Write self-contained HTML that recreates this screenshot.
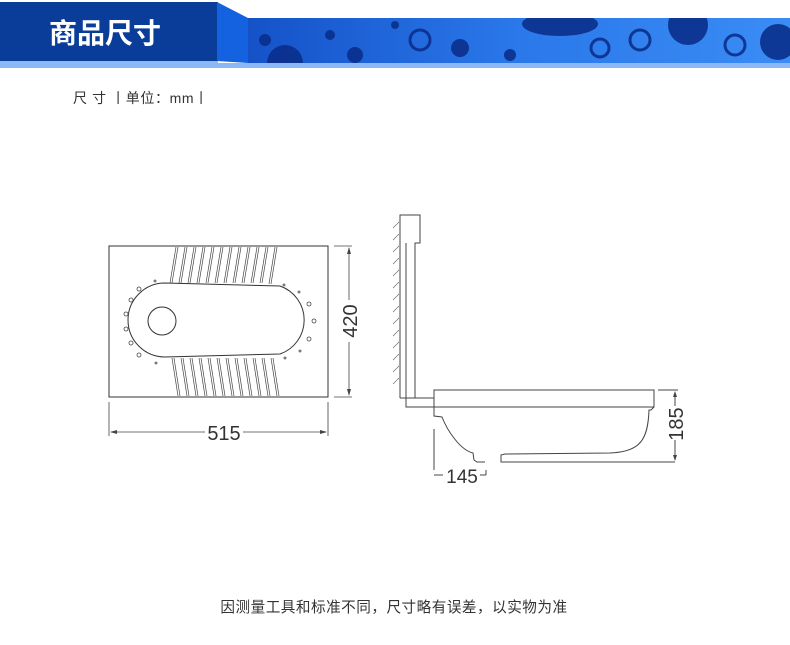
<!DOCTYPE html>
<html><head><meta charset="utf-8"><style>
body{margin:0;width:790px;height:645px;background:#fff;overflow:hidden;font-family:"Liberation Sans","Noto Sans CJK SC",sans-serif}
</style></head><body>
<svg width="790" height="645" xmlns="http://www.w3.org/2000/svg" style="position:absolute;left:0;top:0">
<defs>
<linearGradient id="pg" x1="0" x2="1" y1="0" y2="0"><stop offset="0" stop-color="#1552c8"/><stop offset="0.5" stop-color="#2a78ea"/><stop offset="1" stop-color="#3b8cf5"/></linearGradient>
<clipPath id="pc"><rect x="248" y="18" width="542" height="45"/></clipPath>
</defs>
<rect x="0" y="61" width="218" height="7" fill="#8cb9f4"/>
<rect x="218" y="63" width="572" height="5" fill="#8cb9f4"/>
<rect x="0" y="2" width="218" height="59" fill="#0a3d9a"/>
<polygon points="217,2 248,18 248,63 217,61" fill="#1462e0"/>
<rect x="248" y="18" width="542" height="45" fill="url(#pg)"/>
<g fill="#0a2f8c" opacity="0.9" clip-path="url(#pc)">
<circle cx="285" cy="63" r="18"/><circle cx="265" cy="40" r="6"/><circle cx="330" cy="35" r="5"/>
<circle cx="420" cy="40" r="10" fill="none" stroke="#0a2f8c" stroke-width="3"/>
<circle cx="355" cy="55" r="8"/><circle cx="460" cy="48" r="9"/>
<ellipse cx="560" cy="24" rx="38" ry="12"/><circle cx="600" cy="48" r="9" fill="none" stroke="#0a2f8c" stroke-width="3"/>
<circle cx="640" cy="40" r="10" fill="none" stroke="#0a2f8c" stroke-width="3"/>
<circle cx="688" cy="25" r="20"/><circle cx="735" cy="45" r="10" fill="none" stroke="#0a2f8c" stroke-width="3"/>
<circle cx="778" cy="42" r="18"/><circle cx="510" cy="55" r="6"/><circle cx="395" cy="25" r="4"/>
</g>
<text x="49" y="43" font-size="28" font-weight="bold" fill="#fff" font-family="'Noto Sans CJK SC',sans-serif">商品尺寸</text>
<text x="73" y="103" font-size="14" fill="#333" font-family="'Liberation Sans','Noto Sans CJK SC',sans-serif" letter-spacing="0.6">尺 寸 丨单位：mm丨</text>

<g fill="none" stroke="#333" stroke-width="1">
<rect x="109" y="246" width="219" height="151"/>
<path d="M165,283 L280,286 A36,36 0 0 1 280,354 L165,357 A37,37 0 0 1 165,283 Z"/>
<circle cx="162" cy="321" r="14"/>
</g>
<g stroke="#444" stroke-width="0.7">
<line x1="176" y1="247" x2="170" y2="283"/><line x1="178" y1="247" x2="172" y2="283"/>
<line x1="185" y1="247" x2="179" y2="283"/><line x1="187" y1="247" x2="181" y2="283"/>
<line x1="194" y1="247" x2="188" y2="283"/><line x1="196" y1="247" x2="190" y2="283"/>
<line x1="203" y1="247" x2="197" y2="283"/><line x1="205" y1="247" x2="199" y2="283"/>
<line x1="212" y1="247" x2="206" y2="283"/><line x1="214" y1="247" x2="208" y2="283"/>
<line x1="221" y1="247" x2="215" y2="283"/><line x1="223" y1="247" x2="217" y2="283"/>
<line x1="230" y1="247" x2="224" y2="283"/><line x1="232" y1="247" x2="226" y2="283"/>
<line x1="239" y1="247" x2="233" y2="283"/><line x1="241" y1="247" x2="235" y2="283"/>
<line x1="248" y1="247" x2="242" y2="283"/><line x1="250" y1="247" x2="244" y2="283"/>
<line x1="257" y1="247" x2="251" y2="283"/><line x1="259" y1="247" x2="253" y2="283"/>
<line x1="266" y1="247" x2="260" y2="283"/><line x1="268" y1="247" x2="262" y2="283"/>
<line x1="275" y1="247" x2="269" y2="284"/><line x1="277" y1="247" x2="271" y2="284"/>
<line x1="172" y1="358" x2="178" y2="396"/><line x1="174" y1="358" x2="180" y2="396"/>
<line x1="181" y1="358" x2="187" y2="396"/><line x1="183" y1="358" x2="189" y2="396"/>
<line x1="190" y1="358" x2="196" y2="396"/><line x1="192" y1="358" x2="198" y2="396"/>
<line x1="199" y1="358" x2="205" y2="396"/><line x1="201" y1="358" x2="207" y2="396"/>
<line x1="208" y1="358" x2="214" y2="396"/><line x1="210" y1="358" x2="216" y2="396"/>
<line x1="217" y1="358" x2="223" y2="396"/><line x1="219" y1="358" x2="225" y2="396"/>
<line x1="226" y1="358" x2="232" y2="396"/><line x1="228" y1="358" x2="234" y2="396"/>
<line x1="235" y1="358" x2="241" y2="396"/><line x1="237" y1="358" x2="243" y2="396"/>
<line x1="244" y1="358" x2="250" y2="396"/><line x1="246" y1="358" x2="252" y2="396"/>
<line x1="253" y1="358" x2="259" y2="396"/><line x1="255" y1="358" x2="261" y2="396"/>
<line x1="262" y1="358" x2="268" y2="396"/><line x1="264" y1="358" x2="270" y2="396"/>
<line x1="271" y1="358" x2="277" y2="396"/><line x1="273" y1="358" x2="279" y2="396"/>
</g>
<g fill="none" stroke="#444" stroke-width="0.8">
<circle cx="139" cy="289" r="2"/><circle cx="131" cy="300" r="2"/><circle cx="126" cy="314" r="2"/><circle cx="126" cy="329" r="2"/><circle cx="131" cy="343" r="2"/><circle cx="139" cy="355" r="2"/>
<circle cx="155" cy="281" r="1"/><circle cx="156" cy="363" r="1"/>
<circle cx="284" cy="285" r="1"/><circle cx="299" cy="292" r="1"/><circle cx="309" cy="304" r="2"/><circle cx="314" cy="321" r="2"/><circle cx="309" cy="339" r="2"/><circle cx="300" cy="351" r="1"/><circle cx="285" cy="358" r="1"/>
</g>
<g stroke="#444" stroke-width="0.8" fill="none">
<line x1="334" y1="246" x2="352" y2="246"/><line x1="334" y1="397" x2="352" y2="397"/>
<line x1="349" y1="248" x2="349" y2="300"/><line x1="349" y1="342" x2="349" y2="395"/>
<line x1="109" y1="402" x2="109" y2="436"/><line x1="328" y1="402" x2="328" y2="436"/>
<line x1="111" y1="432" x2="205" y2="432"/><line x1="243" y1="432" x2="326" y2="432"/>
</g>
<g fill="#444"><polygon points="349,247 347,254 351,254"/><polygon points="349,396 347,389 351,389"/>
<polygon points="110,432 117,430 117,434"/><polygon points="327,432 320,430 320,434"/></g>
<text x="224" y="440" font-size="20" fill="#333" text-anchor="middle">515</text>
<text transform="translate(357,321) rotate(-90)" font-size="20" fill="#333" text-anchor="middle">420</text>

<g stroke="#444" stroke-width="1" fill="none">
<path d="M400,398 V215 H420 V243 H415 V398"/>
<line x1="400" y1="398" x2="434" y2="398"/>
<path d="M406,243 V407 H434"/>
<rect x="434" y="390" width="220" height="17"/>
<path d="M654,407 L651,410 L649,410 C648,440 640,452 610,453 L505,454 L501,455 L501,462 L675,462"/>
<path d="M434,407 V416 L442,417 C447,430 460,450 473,453 L474,460 L477,462 L485,462"/>
<line x1="434" y1="429" x2="434" y2="470"/>
<line x1="658" y1="390" x2="678" y2="390"/>
<line x1="675" y1="392" x2="675" y2="406"/><line x1="675" y1="440" x2="675" y2="460"/>
<line x1="434" y1="475" x2="443" y2="475"/><line x1="480" y1="475" x2="486" y2="475"/><line x1="486" y1="470" x2="486" y2="475"/>
</g>
<g stroke="#666" stroke-width="0.6">
<line x1="399" y1="222" x2="393" y2="228"/><line x1="399" y1="234" x2="393" y2="240"/><line x1="399" y1="246" x2="393" y2="252"/><line x1="399" y1="258" x2="393" y2="264"/><line x1="399" y1="270" x2="393" y2="276"/><line x1="399" y1="282" x2="393" y2="288"/><line x1="399" y1="294" x2="393" y2="300"/><line x1="399" y1="306" x2="393" y2="312"/><line x1="399" y1="318" x2="393" y2="324"/><line x1="399" y1="330" x2="393" y2="336"/><line x1="399" y1="342" x2="393" y2="348"/><line x1="399" y1="354" x2="393" y2="360"/><line x1="399" y1="366" x2="393" y2="372"/><line x1="399" y1="378" x2="393" y2="384"/>
</g>
<g fill="#444"><polygon points="675,391 673,397 677,397"/><polygon points="675,461 673,455 677,455"/></g>
<text transform="translate(683,424) rotate(-90)" font-size="20" fill="#333" text-anchor="middle">185</text>
<text x="462" y="483" font-size="19" fill="#333" text-anchor="middle">145</text>
<text x="394" y="612" font-size="14.6" fill="#333" text-anchor="middle" font-family="'Noto Sans CJK SC',sans-serif" letter-spacing="0.5">因测量工具和标准不同，尺寸略有误差，以实物为准</text>
</svg>
</body></html>
